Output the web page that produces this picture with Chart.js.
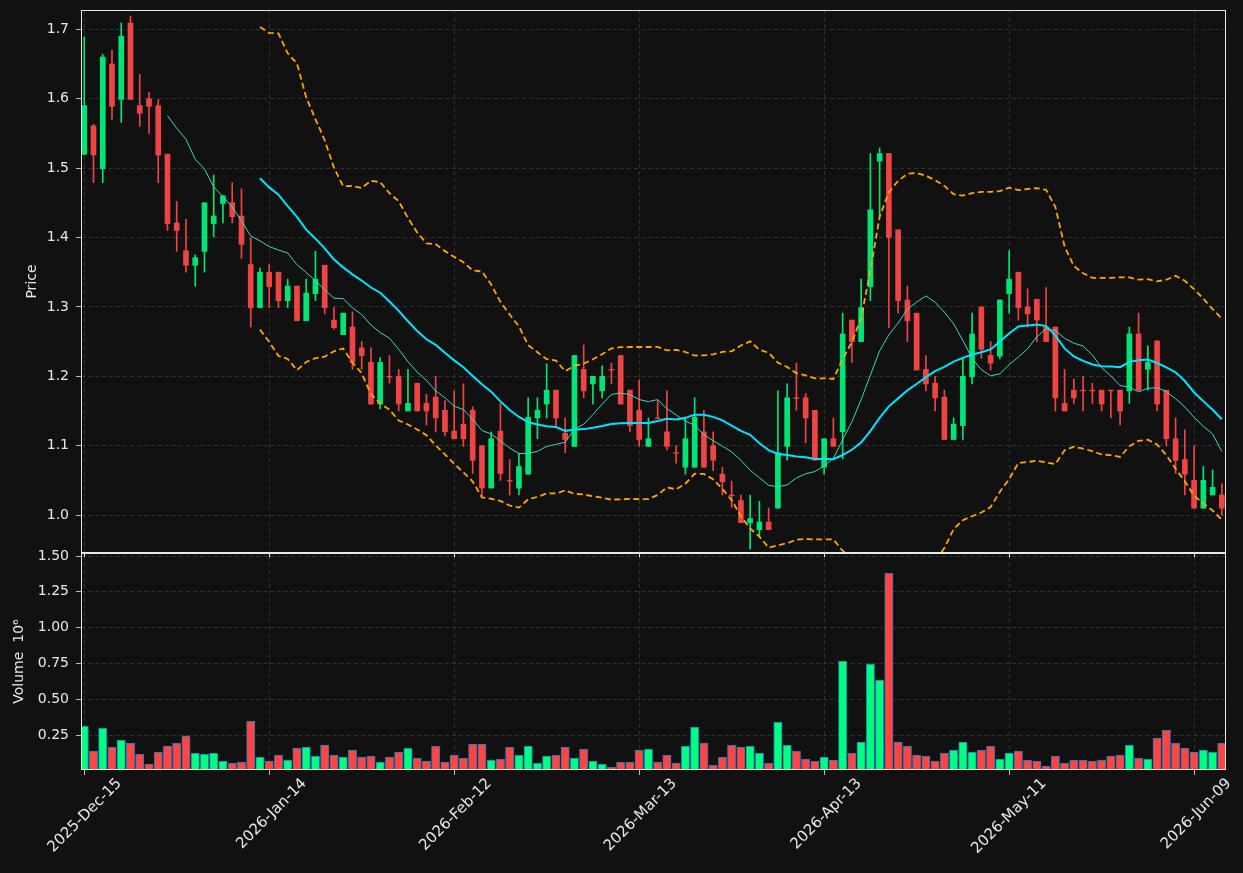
<!DOCTYPE html>
<html>
<head>
<meta charset="utf-8">
<script src="https://cdn.jsdelivr.net/npm/chart.js@4/dist/chart.umd.min.js"></script>
<style>
  html, body { margin: 0; padding: 0; background: #111111; }
  #wrap { width: 1243px; height: 873px; }
</style>
</head>
<body>
<div id="wrap"><canvas id="chart" width="1243" height="873"></canvas></div>
<script>
// trading days
const dates = [
  '2025-12-15','2025-12-16','2025-12-17','2025-12-18','2025-12-19','2025-12-22','2025-12-23','2025-12-24','2025-12-26','2025-12-29',
  '2025-12-30','2025-12-31','2026-01-02','2026-01-05','2026-01-06','2026-01-07','2026-01-08','2026-01-09','2026-01-12','2026-01-13',
  '2026-01-14','2026-01-15','2026-01-16','2026-01-20','2026-01-21','2026-01-22','2026-01-23','2026-01-26','2026-01-27','2026-01-28',
  '2026-01-29','2026-01-30','2026-02-02','2026-02-03','2026-02-04','2026-02-05','2026-02-06','2026-02-09','2026-02-10','2026-02-11',
  '2026-02-12','2026-02-13','2026-02-17','2026-02-18','2026-02-19','2026-02-20','2026-02-23','2026-02-24','2026-02-25','2026-02-26',
  '2026-02-27','2026-03-02','2026-03-03','2026-03-04','2026-03-05','2026-03-06','2026-03-09','2026-03-10','2026-03-11','2026-03-12',
  '2026-03-13','2026-03-16','2026-03-17','2026-03-18','2026-03-19','2026-03-20','2026-03-23','2026-03-24','2026-03-25','2026-03-26',
  '2026-03-27','2026-03-30','2026-03-31','2026-04-01','2026-04-02','2026-04-06','2026-04-07','2026-04-08','2026-04-09','2026-04-10',
  '2026-04-13','2026-04-14','2026-04-15','2026-04-16','2026-04-17','2026-04-20','2026-04-21','2026-04-22','2026-04-23','2026-04-24',
  '2026-04-27','2026-04-28','2026-04-29','2026-04-30','2026-05-01','2026-05-04','2026-05-05','2026-05-06','2026-05-07','2026-05-08',
  '2026-05-11','2026-05-12','2026-05-13','2026-05-14','2026-05-15','2026-05-18','2026-05-19','2026-05-20','2026-05-21','2026-05-22',
  '2026-05-26','2026-05-27','2026-05-28','2026-05-29','2026-06-01','2026-06-02','2026-06-03','2026-06-04','2026-06-05','2026-06-08',
  '2026-06-09','2026-06-10','2026-06-11','2026-06-12'
];

const opens = [
  1.520,1.561,1.499,1.650,1.599,1.709,1.590,1.600,1.590,1.520, 1.421,1.381,1.360,1.380,1.420,1.449,1.450,1.431,1.361,1.299,
  1.350,1.350,1.309,1.330,1.280,1.319,1.360,1.281,1.260,1.271, 1.241,1.220,1.160,1.200,1.200,1.150,1.190,1.161,1.170,1.151,
  1.121,1.131,1.151,1.100,1.039,1.121,1.050,1.039,1.059,1.140, 1.160,1.180,1.118,1.099,1.210,1.189,1.179,1.210,1.230,1.180,
  1.151,1.099,1.140,1.120,1.090,1.069,1.069,1.120,1.100,1.059, 1.029,1.021,0.989,0.979,0.990,1.010,1.099,1.169,1.169,1.151,
  1.069,1.110,1.120,1.281,1.250,1.329,1.510,1.521,1.411,1.310, 1.291,1.210,1.190,1.170,1.109,1.129,1.199,1.300,1.230,1.229,
  1.319,1.350,1.300,1.311,1.271,1.271,1.161,1.180,1.180,1.180, 1.180,1.180,1.180,1.179,1.261,1.210,1.251,1.180,1.110,1.080,
  1.050,1.010,1.029,1.029
];
const highs = [
  1.689,1.563,1.664,1.670,1.709,1.719,1.635,1.609,1.599,1.520, 1.452,1.426,1.375,1.450,1.490,1.460,1.479,1.470,1.399,1.356,
  1.361,1.350,1.340,1.330,1.340,1.380,1.360,1.299,1.291,1.293, 1.250,1.241,1.227,1.230,1.210,1.210,1.190,1.174,1.200,1.165,
  1.179,1.189,1.156,1.100,1.120,1.161,1.080,1.089,1.169,1.169, 1.218,1.180,1.140,1.230,1.245,1.200,1.215,1.219,1.230,1.180,
  1.195,1.140,1.165,1.179,1.100,1.140,1.169,1.151,1.120,1.069, 1.049,1.029,1.029,1.020,1.010,1.179,1.189,1.219,1.175,1.151,
  1.110,1.140,1.291,1.281,1.340,1.521,1.529,1.521,1.411,1.330, 1.291,1.230,1.200,1.180,1.140,1.226,1.291,1.300,1.250,1.310,
  1.381,1.350,1.326,1.311,1.328,1.271,1.210,1.196,1.200,1.190, 1.180,1.180,1.180,1.271,1.291,1.244,1.251,1.180,1.140,1.123,
  1.100,1.070,1.065,1.045
];
const lows = [
  1.519,1.479,1.479,1.570,1.566,1.599,1.560,1.550,1.479,1.410, 1.380,1.350,1.330,1.350,1.401,1.421,1.421,1.370,1.271,1.299,
  1.299,1.299,1.299,1.280,1.280,1.309,1.290,1.268,1.260,1.210, 1.210,1.160,1.153,1.190,1.150,1.150,1.150,1.130,1.120,1.114,
  1.110,1.099,1.060,1.028,1.039,1.050,1.029,1.029,1.059,1.110, 1.140,1.129,1.090,1.099,1.169,1.160,1.169,1.189,1.160,1.120,
  1.099,1.099,1.139,1.094,1.075,1.059,1.069,1.069,1.064,1.029, 1.011,0.989,0.951,0.970,0.979,1.010,1.079,1.151,1.104,1.079,
  1.059,1.099,1.081,1.220,1.250,1.309,1.430,1.270,1.291,1.250, 1.209,1.179,1.150,1.109,1.109,1.109,1.189,1.226,1.209,1.225,
  1.291,1.281,1.271,1.250,1.250,1.150,1.150,1.161,1.150,1.161, 1.150,1.140,1.130,1.161,1.180,1.180,1.150,1.100,1.060,1.029,
  1.010,1.010,1.029,1.000
];
const closes = [
  1.590,1.519,1.660,1.589,1.690,1.599,1.579,1.589,1.519,1.420, 1.410,1.360,1.371,1.450,1.431,1.460,1.430,1.390,1.299,1.350,
  1.329,1.309,1.330,1.280,1.320,1.340,1.299,1.270,1.291,1.220, 1.230,1.160,1.220,1.199,1.160,1.161,1.150,1.150,1.140,1.120,
  1.110,1.110,1.079,1.039,1.110,1.060,1.049,1.070,1.141,1.151, 1.180,1.140,1.109,1.230,1.179,1.200,1.200,1.209,1.160,1.129,
  1.109,1.110,1.139,1.099,1.089,1.110,1.141,1.069,1.079,1.048, 1.028,0.989,0.995,0.990,0.979,1.090,1.169,1.168,1.140,1.079,
  1.110,1.099,1.261,1.250,1.299,1.440,1.521,1.400,1.309,1.280, 1.209,1.189,1.169,1.109,1.131,1.200,1.261,1.239,1.219,1.310,
  1.340,1.299,1.290,1.281,1.250,1.169,1.150,1.169,1.179,1.179, 1.160,1.179,1.150,1.261,1.180,1.220,1.160,1.110,1.079,1.059,
  1.010,1.050,1.040,1.010
];
// volume in millions
const volumes = [
  0.313,0.138,0.299,0.166,0.215,0.194,0.117,0.047,0.131,0.173, 0.194,0.245,0.124,0.117,0.124,0.068,0.054,0.061,0.348,0.096,
  0.068,0.110,0.075,0.159,0.166,0.103,0.180,0.110,0.096,0.145, 0.096,0.103,0.061,0.096,0.131,0.159,0.089,0.068,0.173,0.061,
  0.110,0.089,0.187,0.187,0.075,0.082,0.166,0.110,0.173,0.054, 0.103,0.110,0.166,0.089,0.152,0.068,0.047,0.026,0.061,0.061,
  0.145,0.152,0.061,0.110,0.054,0.173,0.306,0.194,0.040,0.096, 0.180,0.166,0.173,0.124,0.054,0.341,0.180,0.138,0.082,0.068,
  0.096,0.075,0.767,0.124,0.201,0.746,0.634,1.381,0.201,0.173, 0.110,0.103,0.068,0.124,0.145,0.201,0.131,0.145,0.173,0.082,
  0.124,0.138,0.075,0.068,0.033,0.103,0.054,0.075,0.075,0.068, 0.075,0.103,0.110,0.180,0.089,0.082,0.229,0.285,0.194,0.159,
  0.131,0.145,0.131,0.194
];

const priceTicks = [1.0, 1.1, 1.2, 1.3, 1.4, 1.5, 1.6, 1.7];
const volumeTicks = [0.25, 0.50, 0.75, 1.00, 1.25, 1.50];
const dateTicks = [0, 20, 40, 60, 80, 100, 120];

const months = ['Jan','Feb','Mar','Apr','May','Jun','Jul','Aug','Sep','Oct','Nov','Dec'];
function fmtDate(s) {
  const p = s.split('-');
  return p[0] + '-' + months[parseInt(p[1], 10) - 1] + '-' + p[2];
}

function rollingMean(values, n) {
  return values.map((v, i) => {
    if (i < n - 1) return null;
    let sum = 0;
    for (let k = i - n + 1; k <= i; k++) sum += values[k];
    return sum / n;
  });
}
function rollingStd(values, n) {
  const mean = rollingMean(values, n);
  return values.map((v, i) => {
    if (i < n - 1) return null;
    let ss = 0;
    for (let k = i - n + 1; k <= i; k++) ss += (values[k] - mean[i]) ** 2;
    return Math.sqrt(ss / n);
  });
}

const ma10 = rollingMean(closes, 10);
const ma20 = rollingMean(closes, 20);
const sd20 = rollingStd(closes, 20);
const upperBand = ma20.map((m, i) => m === null ? null : m + 2 * sd20[i]);
const lowerBand = ma20.map((m, i) => m === null ? null : m - 2 * sd20[i]);

const textColor = '#e8e8e8';
const gridColor = '#3a3a3a';
const fontFamily = 'DejaVu Sans';
const isUp = closes.map((c, i) => c >= opens[i]);
const candleColors = isUp.map(u => u ? '#00e676' : '#ef4444');
const volumeColors = isUp.map(u => u ? '#00ff80' : '#ff4444');

const asPoints = arr => arr.map((v, i) => ({ x: i, y: v }));

// clip each dataset to its own panel, then frame both panels
const panels = {
  id: 'panels',
  beforeDatasetDraw(chart, args) {
    const ys = chart.scales[args.meta.yAxisID];
    const area = chart.chartArea;
    const ctx = chart.ctx;
    ctx.save();
    ctx.beginPath();
    ctx.rect(area.left, ys.top, area.right - area.left, ys.bottom - ys.top);
    ctx.clip();
  },
  afterDatasetDraw(chart) {
    chart.ctx.restore();
  },
  afterDraw(chart) {
    const ctx = chart.ctx;
    const area = chart.chartArea;
    const top = chart.scales.y;
    ctx.save();
    ctx.strokeStyle = '#e8e8e8';
    ctx.lineWidth = 1;
    // x ticks under the price pane
    ctx.beginPath();
    dateTicks.forEach(v => {
      const px = Math.round(chart.scales.x.getPixelForValue(v)) + 0.5;
      ctx.moveTo(px, top.bottom);
      ctx.lineTo(px, top.bottom + 4);
    });
    ctx.stroke();
    ['y', 'yv'].forEach(id => {
      const s = chart.scales[id];
      ctx.strokeRect(area.left + 0.5, s.top + 0.5, area.right - area.left - 1, s.bottom - s.top - 1);
    });
    ctx.restore();
  }
};

const noEdgePadding = s => {
  s.paddingTop = 0;
  s.paddingBottom = 0;
  s.paddingLeft = 0;
  s.paddingRight = 0;
};

new Chart(document.getElementById('chart'), {
  type: 'bar',
  data: {
    datasets: [
      {
        label: 'Wick',
        data: dates.map((d, i) => ({ x: i, y: [lows[i], highs[i]] })),
        backgroundColor: candleColors,
        barThickness: 1,
        grouped: false,
        yAxisID: 'y',
        order: 6
      },
      {
        label: 'Body',
        data: dates.map((d, i) => ({ x: i, y: [opens[i], closes[i]] })),
        backgroundColor: candleColors,
        barThickness: 5,
        grouped: false,
        yAxisID: 'y',
        order: 5
      },
      {
        label: 'Volume',
        data: asPoints(volumes),
        backgroundColor: volumeColors,
        borderColor: '#1f77b4',
        borderWidth: 1,
        barThickness: 8.4,
        grouped: false,
        yAxisID: 'yv',
        order: 5
      },
      {
        type: 'line', label: 'MA10', data: asPoints(ma10), yAxisID: 'y',
        borderColor: '#3fd6c6', borderWidth: 1, pointRadius: 0, order: 2
      },
      {
        type: 'line', label: 'MA20', data: asPoints(ma20), yAxisID: 'y',
        borderColor: '#00e5ff', borderWidth: 2, pointRadius: 0, order: 1
      },
      {
        type: 'line', label: 'Upper', data: asPoints(upperBand), yAxisID: 'y',
        borderColor: '#ffa500', borderWidth: 1.8, borderDash: [6, 3.5], pointRadius: 0, order: 1
      },
      {
        type: 'line', label: 'Lower', data: asPoints(lowerBand), yAxisID: 'y',
        borderColor: '#ffa500', borderWidth: 1.8, borderDash: [6, 3.5], pointRadius: 0, order: 1
      }
    ]
  },
  options: {
    responsive: false,
    animation: false,
    devicePixelRatio: 1,
    layout: { padding: { left: 0, top: 10, right: 17, bottom: 0 } },
    plugins: { legend: { display: false }, tooltip: { enabled: false } },
    scales: {
      x: {
        type: 'linear',
        min: -0.35,
        max: 123.45,
        offset: false,
        afterBuildTicks: s => { s.ticks = dateTicks.map(v => ({ value: v })); },
        afterFit: s => { s.height = 103; noEdgePadding(s); },
        ticks: {
          autoSkip: false,
          minRotation: 45,
          maxRotation: 45,
          labelOffset: 35,
          color: textColor,
          font: { family: fontFamily, size: 15 },
          padding: 0,
          callback: v => fmtDate(dates[v])
        },
        grid: { color: gridColor, lineWidth: 0.8, offset: false, tickColor: textColor, tickLength: 5, tickBorderDash: [] },
        border: { display: false, dash: [4, 3] }
      },
      // defined first so the volume pane sits below the price pane
      yv: {
        type: 'linear',
        position: 'left',
        stack: 'panes',
        stackWeight: 217,
        min: 0.006,
        max: 1.521,
        afterBuildTicks: s => { s.ticks = volumeTicks.map(v => ({ value: v })); },
        afterFit: s => { s.width = 81; noEdgePadding(s); },
        ticks: {
          color: textColor,
          font: { family: fontFamily, size: 14 },
          padding: 7,
          callback: v => Number(v).toFixed(2)
        },
        grid: { color: gridColor, lineWidth: 0.8, tickColor: textColor, tickLength: 5, tickBorderDash: [] },
        border: { display: false, dash: [4, 3] },
        title: {
          display: true, text: 'Volume  10\u2076', color: textColor,
          font: { family: fontFamily, size: 14 }, padding: { top: 11, bottom: 0 }
        }
      },
      y: {
        type: 'linear',
        position: 'left',
        stack: 'panes',
        stackWeight: 543,
        min: 0.9454,
        max: 1.7278,
        afterBuildTicks: s => { s.ticks = priceTicks.map(v => ({ value: v })); },
        afterFit: s => { s.width = 81; noEdgePadding(s); },
        ticks: {
          color: textColor,
          font: { family: fontFamily, size: 14 },
          padding: 7,
          callback: v => Number(v).toFixed(1)
        },
        grid: { color: gridColor, lineWidth: 0.8, tickColor: textColor, tickLength: 5, tickBorderDash: [] },
        border: { display: false, dash: [4, 3] },
        title: {
          display: true, text: 'Price', color: textColor,
          font: { family: fontFamily, size: 14 }, padding: { top: 24, bottom: 0 }
        }
      }
    }
  },
  plugins: [panels]
});
</script>
</body>
</html>
